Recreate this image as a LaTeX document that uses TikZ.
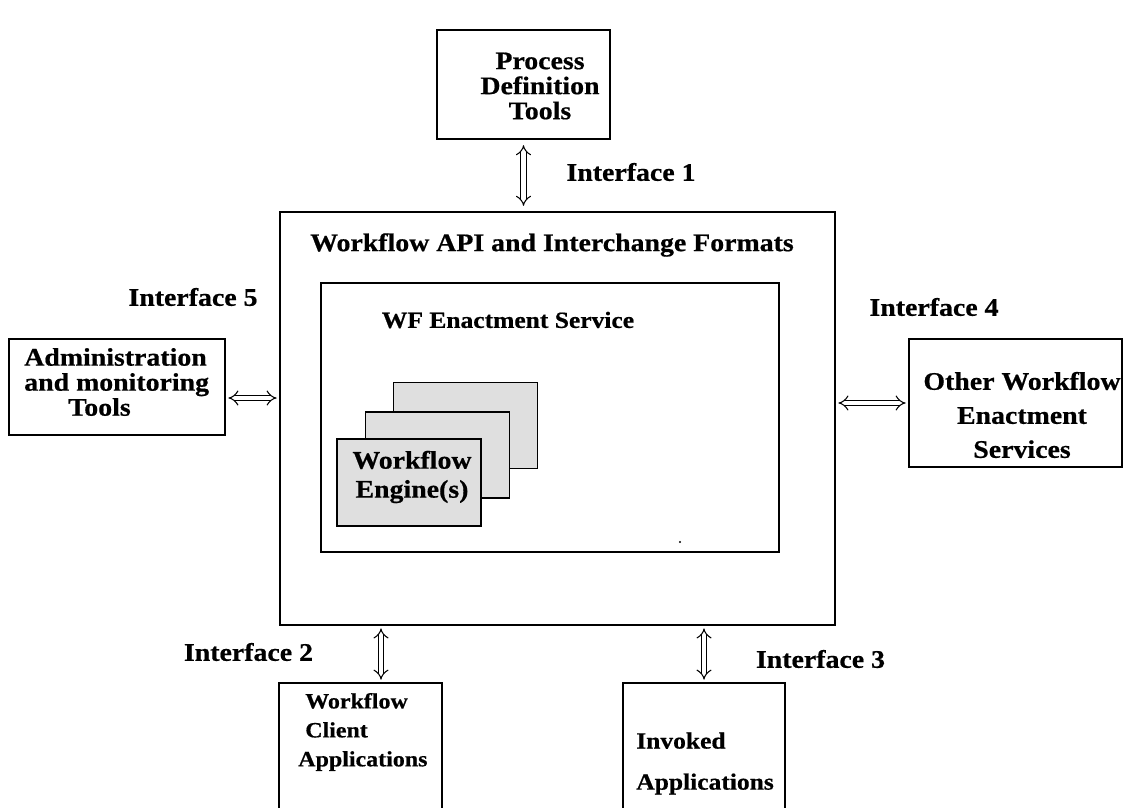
\documentclass[tikz,border=0pt]{standalone}
\usepackage{fontspec}
\setmainfont[FakeStretch=1.1, BoldFeatures={FakeBold=0.6}]{Liberation Serif}
\usetikzlibrary{arrows.meta}

\tikzset{
  box/.style={draw, line width=0.8pt, inner sep=0pt},
  eng/.style={box, fill=gray!25, minimum width=3.58cm, minimum height=2.15cm},
  lbl/.style={font=\bfseries\fontsize{18}{#1}\selectfont, inner sep=0pt},
  lbl/.default=17.8,
  sml/.style={font=\bfseries\fontsize{15.5}{#1}\selectfont, inner sep=0pt},
  sml/.default=17.8,
  dbl/.style={double, double distance=3pt, line width=0.75pt, {Implies}-{Implies}, shorten >=2pt, shorten <=2pt}
}

\begin{document}
\begin{tikzpicture}

\useasboundingbox (0,0) rectangle (28.3,-20.175);

% boxes
\node[box, minimum width=4.325cm, minimum height=2.725cm] (pdt) at (13.0875,-2.1125) {};
\node[box, minimum width=13.875cm, minimum height=10.325cm] (api) at (13.9375,-10.4625) {};
\node[box, minimum width=11.45cm, minimum height=6.725cm] (ens) at (13.75,-10.4375) {};
\node[box, minimum width=5.4cm, minimum height=2.4cm] (admin) at (2.925,-9.675) {};
\node[box, minimum width=5.325cm, minimum height=3.2cm] (other) at (25.3875,-10.075) {};
\node[box, minimum width=4.075cm, minimum height=3.3cm] (client) at (9.0125,-18.725) {};
\node[box, minimum width=4.05cm, minimum height=3.3cm] (invoked) at (17.6,-18.725) {};

% engines
\node[eng] (eng3) at (11.6375,-10.6375) {};
\node[eng] (eng2) at (10.9375,-11.375) {};
\node[eng, minimum width=3.6cm, minimum height=2.175cm] (eng1) at (10.225,-12.0625) {};

% texts
\node[lbl, align=center] (pdttxt) at (13.5,-2.15) {Process\\Definition\\Tools};
\node[lbl] (apitxt) at (13.8,-6.125) {Workflow API and Interchange Formats};
\node[lbl, font=\bfseries\fontsize{16.5}{18}\selectfont] (enstxt) at (12.7,-8.0) {WF Enactment Service};
\node[lbl=20.6, align=center] (engtxt) at (10.3,-11.925) {Workflow\\Engine(s)};
\node[lbl, align=left, anchor=west] (admintxt) at (0.6,-9.55) {Administration\\and monitoring\\\hspace*{1.1cm}Tools};
\node[lbl=24.2, align=center] (othertxt) at (25.55,-10.375) {Other Workflow\\Enactment\\Services};
\node[sml=20.6, align=left, anchor=west] (clienttxt) at (7.45,-18.3) {\hspace*{0.175cm}Workflow\\\hspace*{0.175cm}Client\\Applications};
\node[lbl=29.2, align=left, anchor=west, font=\bfseries\fontsize{16.5}{29.2}\selectfont] (invokedtxt) at (15.9,-19.0875) {Invoked\\Applications};

\node[lbl] (if1) at (15.775,-4.3) {Interface 1};
\node[lbl] (if5) at (4.825,-7.425) {Interface 5};
\node[lbl] (if4) at (23.35,-7.675) {Interface 4};
\node[lbl] (if2) at (6.2125,-16.3) {Interface 2};
\node[lbl] (if3) at (20.5125,-16.475) {Interface 3};

\fill (17.0,-13.55) circle (0.03);

% connectors
\draw[dbl, shorten >=4pt, shorten <=4pt] (pdt.south) -- (pdt.south |- api.north);
\draw[dbl] ([yshift=-0.275cm]admin.east) -- ([yshift=-0.275cm]admin.east -| api.west);
\draw[dbl] (api.east |- other.west) -- (other.west);
\draw[dbl] (api.south -| 9.525,0) -- (client.north -| 9.525,0);
\draw[dbl] (api.south -| invoked.north) -- (invoked.north);

\end{tikzpicture}
\end{document}
